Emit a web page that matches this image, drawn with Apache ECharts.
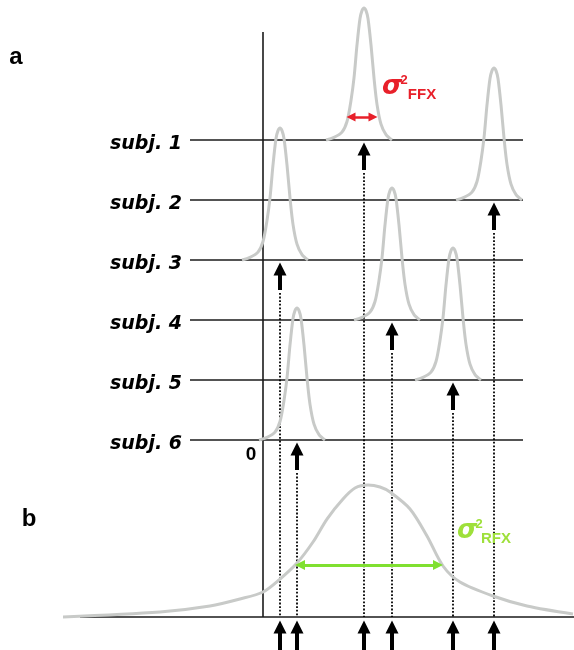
<!DOCTYPE html>
<html>
<head>
<meta charset="utf-8">
<script src="https://cdn.jsdelivr.net/npm/echarts@6/dist/echarts.min.js"></script>
<style>html,body{margin:0;padding:0;background:#fff}#c{width:574px;height:650px}</style>
</head>
<body>
<div id="c"></div>
<script>
// ---- data ----
const subjects = ['subj. 1', 'subj. 2', 'subj. 3', 'subj. 4', 'subj. 5', 'subj. 6'];
const subjectLevels = [5, 4, 3, 2, 1, 0];          // baseline of each subject row
const subjectMeans = [10.1, 23.1, 1.7, 12.9, 19.0, 3.4]; // peak position of each subject
// shape of a single-subject peak: [offset from mean, relative height]
const peakProfile = [[-3.8,0],[-3.0,0.02],[-2.2,0.06],[-1.7,0.14],[-1.3,0.3],[-1.0,0.47],[-0.7,0.72],[-0.4,0.92],[-0.2,0.98],[0,1],[0.2,0.98],[0.4,0.92],[0.7,0.72],[1.0,0.47],[1.3,0.27],[1.7,0.12],[2.2,0.04],[2.8,0]];
const peakHeight = 2.2;
// group (RFX) distribution: [x, height above ground]
const groupCurve = [[-20.0,0],[-10.3,0.083],[-5.3,0.183],[-2.3,0.3],[0,0.417],[1.7,0.633],[3.4,0.9],[5.0,1.25],[6.4,1.633],[8.0,1.967],[9.2,2.15],[10.5,2.2],[11.7,2.167],[12.7,2.083],[14.7,1.8],[16.4,1.35],[18.0,0.85],[19.7,0.583],[23.0,0.35],[26.4,0.183],[31.0,0.05]];
const groundLevel = -2.95;
const ffxArrow = [8.8, 11.0, 5.383];   // x from, x to, y
const rfxArrow = [3.7, 17.5, -2.083];

// ---- build options ----
const GRAY = '#c8cac8';
const series = [];

// axis lines & subject rows
const axisSegs = [
  {coords: [[0, groundLevel], [0, 6.8]]},
  {coords: [[-18.3, groundLevel], [31.1, groundLevel]]}
];
subjectLevels.forEach(l => axisSegs.push({coords: [[-7.3, l], [26.0, l]]}));
series.push({type: 'lines', coordinateSystem: 'cartesian2d', z: 1, silent: true,
  lineStyle: {color: '#1a1a1a', width: 1.6, opacity: 1}, data: axisSegs});

// dotted drop lines
series.push({type: 'lines', coordinateSystem: 'cartesian2d', z: 2, silent: true,
  lineStyle: {color: '#000', width: 1.8, type: [1.8, 1.8], opacity: 1},
  data: subjectMeans.map((m, i) => ({coords: [[m, subjectLevels[i] - 0.55], [m, groundLevel]]}))});

// subject curves
subjectMeans.forEach((m, i) => {
  series.push({type: 'line', smooth: 0.3, symbol: 'none', z: 3, silent: true,
    lineStyle: {color: GRAY, width: 3},
    data: peakProfile.map(([dx, h]) => [m + dx, subjectLevels[i] + h * peakHeight])});
});
// group curve
series.push({type: 'line', smooth: 0.3, symbol: 'none', z: 3, silent: true,
  lineStyle: {color: GRAY, width: 3},
  data: groupCurve.map(([x, h]) => [x, groundLevel + h])});

// black arrows
const arrows = [];
subjectMeans.forEach((m, i) => {
  arrows.push({coords: [[m, subjectLevels[i] - 0.5], [m, subjectLevels[i] - 0.15]]});
  arrows.push({coords: [[m, -3.5], [m, -3.117]]});
});
series.push({type: 'lines', coordinateSystem: 'cartesian2d', z: 4, silent: true,
  symbol: ['none', 'triangle'], symbolSize: [13, 13],
  lineStyle: {color: '#000', width: 4, opacity: 1}, data: arrows});

// variance arrows
series.push({type: 'lines', coordinateSystem: 'cartesian2d', z: 5, silent: true,
  symbol: ['triangle', 'triangle'], symbolSize: [9, 9],
  lineStyle: {color: '#e8202a', width: 2.5, opacity: 1},
  data: [{coords: [[ffxArrow[0], ffxArrow[2]], [ffxArrow[1], ffxArrow[2]]]}]});
series.push({type: 'lines', coordinateSystem: 'cartesian2d', z: 5, silent: true,
  symbol: ['triangle', 'triangle'], symbolSize: [10, 10],
  lineStyle: {color: '#80e030', width: 3, opacity: 1},
  data: [{coords: [[rfxArrow[0], rfxArrow[2]], [rfxArrow[1], rfxArrow[2]]]}]});

// texts
function txt(x, y, s, style, pos) {
  return {type: 'scatter', symbolSize: 0, z: 6, silent: true,
    itemStyle: {opacity: 1},
    data: [{value: [x, y], name: s}],
    label: Object.assign({show: true, position: pos || 'inside', distance: 0, formatter: '{b}', opacity: 1}, style)};
}
subjects.forEach((s, i) => series.push(txt(-8.1, subjectLevels[i] - 0.07, s,
  {fontFamily: 'DejaVu Sans', fontWeight: 'bold', fontStyle: 'italic', fontSize: 19, color: '#000'}, 'left')));
series.push(txt(-1.2, -0.25, '0', {fontFamily: 'Liberation Sans', fontWeight: 'bold', fontSize: 19, color: '#000'}));
series.push(txt(-24.7, 6.383, 'a', {fontFamily: 'Liberation Sans', fontWeight: 'bold', fontSize: 24, color: '#000'}));
series.push(txt(-23.4, -1.317, 'b', {fontFamily: 'Liberation Sans', fontWeight: 'bold', fontSize: 24, color: '#000'}));
const RED = '#e8202a', GREEN = '#9ee03a';
series.push(txt(12.9, 5.883, 'σ', {fontFamily: 'DejaVu Sans', fontWeight: 'bold', fontStyle: 'italic', fontSize: 26, color: RED}));
series.push(txt(14.1, 6.0, '2', {fontFamily: 'Liberation Sans', fontWeight: 'bold', fontSize: 13, color: RED}));
series.push(txt(15.9, 5.75, 'FFX', {fontFamily: 'Liberation Sans', fontWeight: 'bold', fontSize: 15, color: RED}));
series.push(txt(20.4, -1.517, 'σ', {fontFamily: 'DejaVu Sans', fontWeight: 'bold', fontStyle: 'italic', fontSize: 26, color: GREEN}));
series.push(txt(21.6, -1.40, '2', {fontFamily: 'Liberation Sans', fontWeight: 'bold', fontSize: 13, color: GREEN}));
series.push(txt(23.3, -1.65, 'RFX', {fontFamily: 'Liberation Sans', fontWeight: 'bold', fontSize: 15, color: GREEN}));

const chart = echarts.init(document.getElementById('c'));
chart.setOption({
  animation: false,
  backgroundColor: '#fff',
  grid: {left: 0, right: 0, top: 0, bottom: 0},
  xAxis: {type: 'value', min: -26.3, max: 31.1, show: false},
  yAxis: {type: 'value', min: -3.5, max: 7.3333, show: false},
  series: series
});
</script>
</body>
</html>
